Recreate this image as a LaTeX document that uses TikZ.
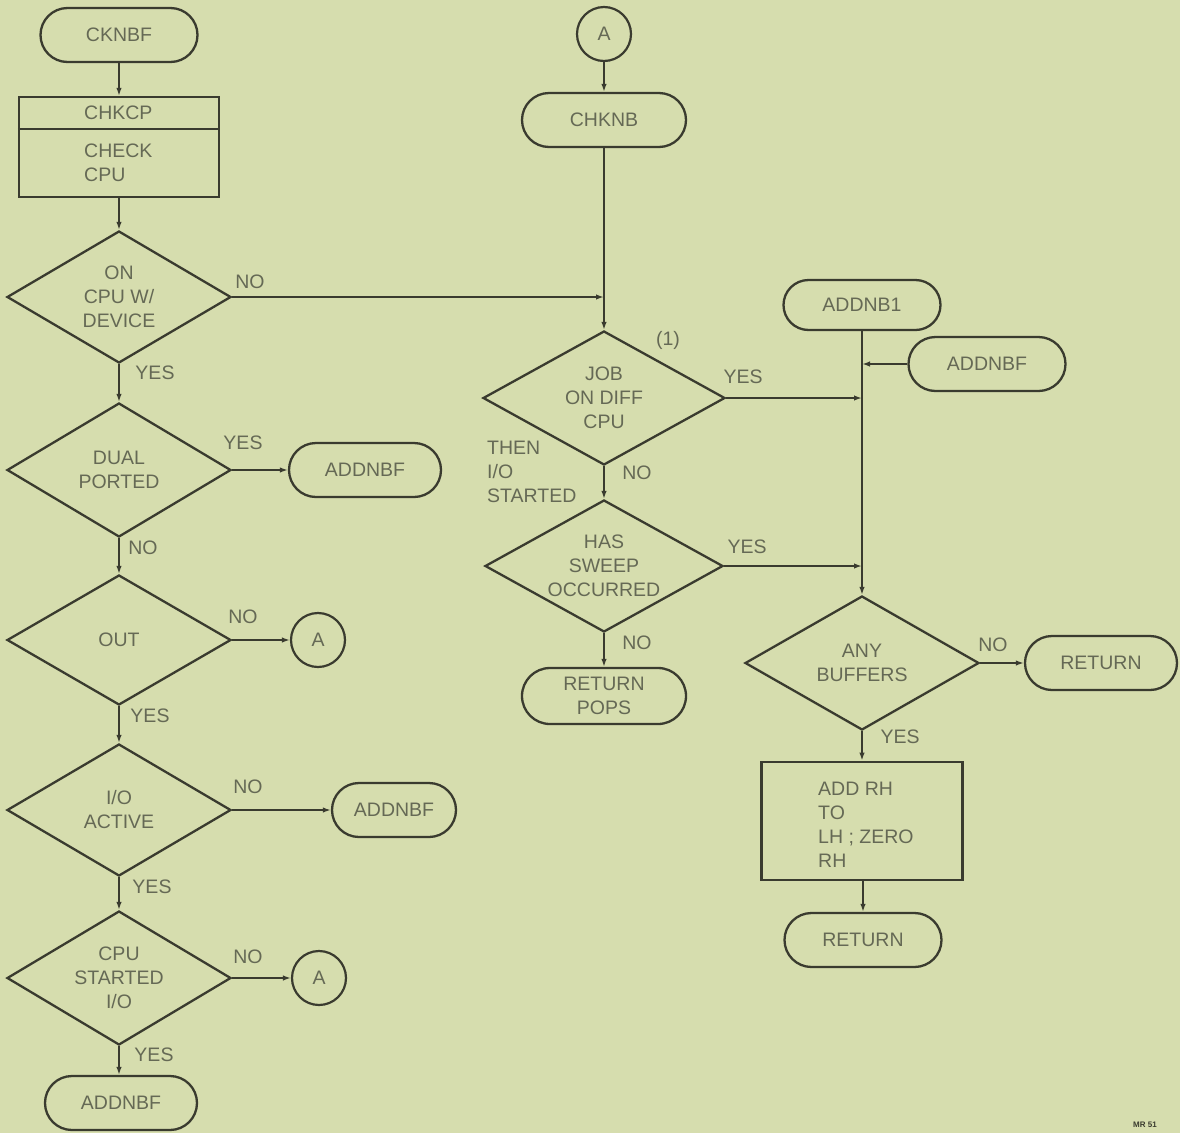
\documentclass[tikz,border=0pt]{standalone}
\usepackage{fontspec}
\setmainfont{Liberation Sans}
\usetikzlibrary{shapes.geometric,arrows.meta}
\definecolor{bg}{HTML}{D6DDAE}
\definecolor{ink}{HTML}{3A3B2F}
\definecolor{txtc}{HTML}{656955}
\begin{document}
\begin{tikzpicture}[x=1pt,y=-1pt,
  txt/.style={font=\fontsize{19.5}{24}\selectfont, text=txtc, inner sep=0pt, align=center},
  term/.style={txt, draw=ink, line width=2.3pt, rectangle, rounded corners=27pt, minimum height=54pt, minimum width=#1},
  term/.default=157pt,
  dec/.style 2 args={draw=ink, line width=2.3pt, diamond, inner sep=0pt, minimum width=#1pt, minimum height=#2pt},
  conn/.style={txt, draw=ink, line width=2.2pt, circle, minimum size=54pt},
  procbox/.style={draw=ink, line width=2.3pt, rectangle, inner sep=0pt},
  flow/.style={draw=ink, line width=1.7pt, -{Latex[length=8pt,width=5.5pt]}},
  lbl/.style={txt}]
\fill[bg] (0,0) rectangle (1180,1133);
\useasboundingbox (0,0) rectangle (1180,1133);

% ---------- left column ----------
\node[term=157pt] (cknbf) at (119,35) {CKNBF};
\node[procbox, minimum width=200pt, minimum height=100pt] (chkcp) at (119,147) {};
\draw[ink, line width=2.3pt] ([yshift=-33pt]chkcp.north west) -- ([yshift=-33pt]chkcp.north east);
\node[txt, anchor=west] (chkcpT) at (84,113) {CHKCP};
\node[txt, anchor=west, align=left] (chkcpB) at (84,163) {CHECK\\CPU};

\node[dec={224}{132}] (d1) at (119,297) {};
\node[txt] (d1t) at (d1) {ON\\CPU W/\\DEVICE};
\node[dec={224}{134}] (d2) at (119,470) {};
\node[txt] (d2t) at (d2) {DUAL\\PORTED};
\node[dec={224}{130}] (d3) at (119,640) {};
\node[txt] (d3t) at (d3) {OUT};
\node[dec={224}{132}] (d4) at (119,810) {};
\node[txt] (d4t) at (d4) {I/O\\ACTIVE};
\node[dec={224}{134}] (d5) at (119,978) {};
\node[txt] (d5t) at (d5) {CPU\\STARTED\\I/O};
\node[term=152pt] (addnbfB) at (121,1103) {ADDNBF};

\node[term=152pt] (addnbfA) at (365,470) {ADDNBF};
\node[conn] (a1) at (318,640) {A};
\node[term=124pt] (addnbfC) at (394,810) {ADDNBF};
\node[conn] (a2) at (319,978) {A};

\draw[flow] (cknbf) -- (chkcp);
\draw[flow] (chkcp) -- (d1);
\draw[flow] (d1) -- (d2);
\draw[flow] (d2) -- (d3);
\draw[flow] (d3) -- (d4);
\draw[flow] (d4) -- (d5);
\draw[flow] (d5.south) -- (addnbfB.north -| d5.south);
\draw[flow] (d2.east) -- (addnbfA.west);
\draw[flow] (d3.east) -- (a1.west);
\draw[flow] (d4.east) -- (addnbfC.west);
\draw[flow] (d5.east) -- (a2.west);

\node[lbl] (l1) at (250,282) {NO};
\node[lbl] (l2) at (155,373) {YES};
\node[lbl] (l3) at (243,443) {YES};
\node[lbl] (l4) at (143,548) {NO};
\node[lbl] (l5) at (243,617) {NO};
\node[lbl] (l6) at (150,716) {YES};
\node[lbl] (l7) at (248,787) {NO};
\node[lbl] (l8) at (152,887) {YES};
\node[lbl] (l9) at (248,957) {NO};
\node[lbl] (l10) at (154,1055) {YES};

% ---------- middle column ----------
\node[conn] (atop) at (604,34) {A};
\node[term=164pt] (chknb) at (604,120) {CHKNB};
\node[dec={242}{134}] (d6) at (604,398) {};
\node[txt] (d6t) at (d6) {JOB\\ON DIFF\\CPU};
\node[dec={238}{132}] (d7) at (604,566) {};
\node[txt] (d7t) at (d7) {HAS\\SWEEP\\OCCURRED};
\node[term=164pt, minimum height=56pt, rounded corners=28pt] (retpops) at (604,696) {RETURN\\POPS};

\draw[flow] (atop) -- (chknb);
\draw[flow] (chknb) -- (d6);
\draw[flow] (d1.east) -- (d1.east -| chknb.south);
\draw[flow] (d6) -- (d7);
\draw[flow] (d7) -- (retpops);

\node[lbl] (n1) at (668,340) {(1)};
\node[lbl] (n2) at (743,377) {YES};
\node[lbl, anchor=west, align=left] (n3) at (487,472) {THEN\\I/O\\STARTED};
\node[lbl] (n4) at (637,473) {NO};
\node[lbl] (n5) at (747,547) {YES};
\node[lbl] (n6) at (637,643) {NO};

% ---------- right column ----------
\node[term=157pt, minimum height=50pt, rounded corners=25pt] (addnb1) at (862,305) {ADDNB1};
\node[term=157pt] (addnbfR) at (987,364) {ADDNBF};
\node[dec={234}{134}] (d8) at (862,663) {};
\node[txt] (d8t) at (d8) {ANY\\BUFFERS};
\node[term=152pt] (ret1) at (1101,663) {RETURN};
\node[procbox, line width=2.8pt, minimum width=201pt, minimum height=118pt] (addrh) at (862,821) {};
\node[txt, anchor=west, align=left] (addrhT) at (818,825) {ADD RH\\TO\\LH ; ZERO\\RH};
\node[term=157pt] (ret2) at (863,940) {RETURN};

\draw[flow] (addnb1) -- (d8);
\draw[flow] (addnbfR.west) -- (addnbfR.west -| addnb1.south);
\draw[flow] (d6.east) -- (d6.east -| addnb1.south);
\draw[flow] (d7.east) -- (d7.east -| addnb1.south);
\draw[flow] (d8.east) -- (ret1.west);
\draw[flow] (d8) -- (addrh);
\draw[flow] (addrh.south -| ret2.north) -- (ret2.north);

\node[lbl] (r1) at (993,645) {NO};
\node[lbl] (r2) at (900,737) {YES};

\node[anchor=west, font=\fontsize{8}{9}\selectfont\bfseries, text=ink, inner sep=0pt] (mr) at (1133,1125) {MR 51};
\end{tikzpicture}
\end{document}
